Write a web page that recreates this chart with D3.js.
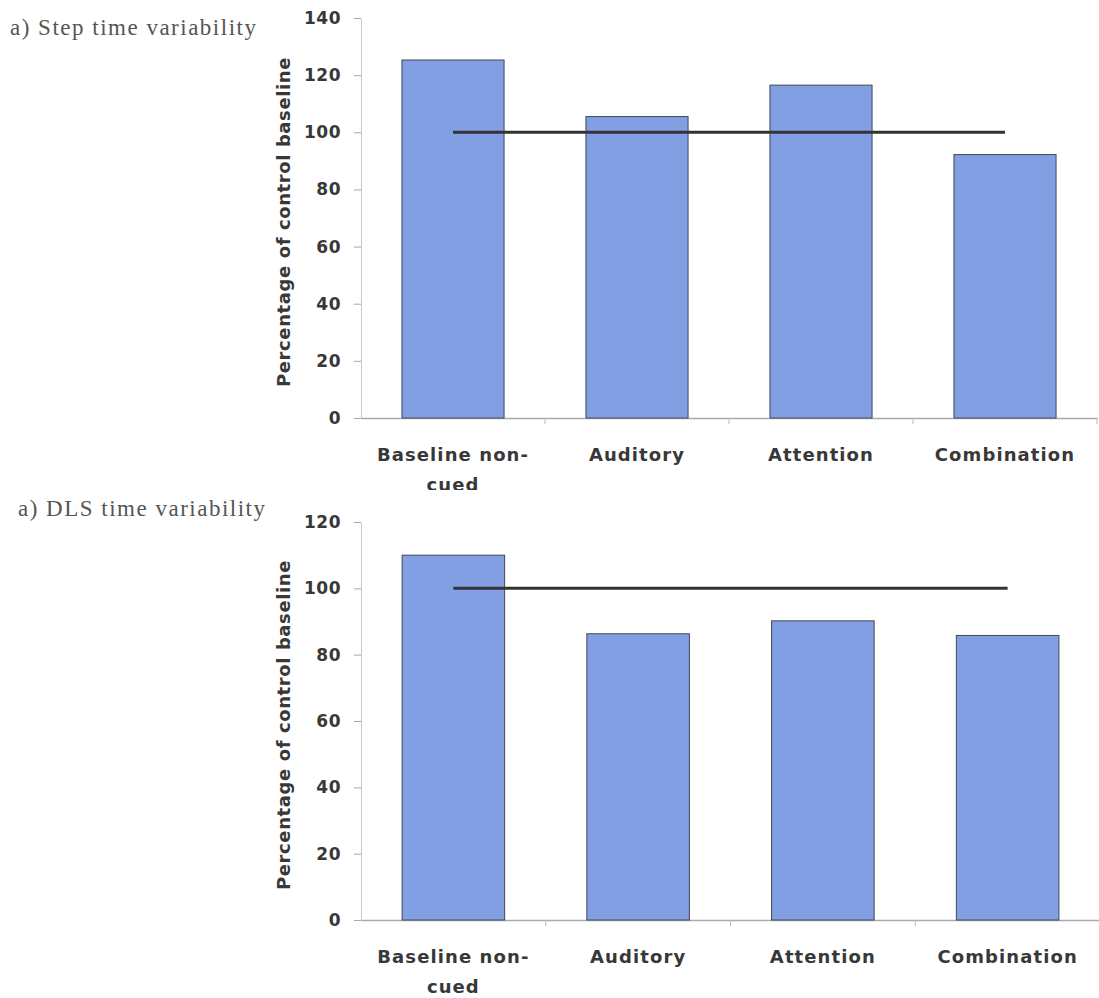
<!DOCTYPE html>
<html>
<head>
<meta charset="utf-8">
<script src="https://cdn.jsdelivr.net/npm/d3@7"></script>
<style>
  html, body { margin: 0; padding: 0; background: #ffffff; }
  svg { display: block; }
</style>
</head>
<body>
<script>
// ---- data ----
const categories = ["Baseline non-cued", "Auditory", "Attention", "Combination"];
const stepValues = [125.3, 105.5, 116.5, 92.2];
const dlsValues = [110.0, 86.3, 90.2, 85.8];
const controlValues = [100, 100, 100, 100];
const stepTicks = [0, 20, 40, 60, 80, 100, 120, 140];
const dlsTicks = [0, 20, 40, 60, 80, 100, 120];
const stepTitle = "a) Step time variability";
const dlsTitle = "a) DLS time variability";
const yLabel = "Percentage of control baseline";

const W = 1099, H = 998;
const svg = d3.select("body").append("svg").attr("width", W).attr("height", H);

const defs = svg.append("defs");
defs.append("clipPath").attr("id", "clipTop")
  .append("rect").attr("x", 0).attr("y", 0).attr("width", W).attr("height", 490);

function panel(opts) {
  const g = svg.append("g");
  if (opts.clip) g.attr("clip-path", "url(#" + opts.clip + ")");
  const x = d3.scaleBand().domain(categories).range([opts.x0, opts.x1])
    .paddingInner(0.445).paddingOuter(0.2225);
  const xb = d3.scaleBand().domain(categories).range([opts.x0, opts.x1]).padding(0);
  const y = d3.scaleLinear().domain([0, d3.max(opts.ticks)]).range([opts.y0, opts.y1]);

  // title
  g.append("text").attr("x", opts.tx).attr("y", opts.ty)
    .attr("font-family", "'Liberation Serif', 'Times New Roman', serif")
    .attr("font-size", 23).attr("letter-spacing", 1.5).attr("fill", "#555")
    .text(opts.title);

  // y axis
  const yAxis = d3.axisLeft(y).tickValues(opts.ticks).tickFormat(d3.format("d"))
    .tickSizeInner(7).tickSizeOuter(0).tickPadding(13);
  const ya = g.append("g").attr("transform", `translate(${opts.x0},0)`).call(yAxis);
  ya.select(".domain").attr("stroke", "#c8c8c8").attr("stroke-width", 1);
  ya.selectAll(".tick line").attr("stroke", "#aaa");
  ya.selectAll(".tick text").attr("font-family", "'DejaVu Sans', sans-serif")
    .attr("font-weight", "bold").attr("font-size", 17).attr("letter-spacing", 0.5).attr("fill", "#383838");

  // x axis
  const xAxis = d3.axisBottom(xb).tickSize(0).tickFormat("");
  const xa = g.append("g").attr("transform", `translate(0,${opts.y0})`).call(xAxis);
  xa.select(".domain").attr("stroke", "#aaa").attr("stroke-width", 1.5);
  // category boundary ticks
  xa.selectAll("line.bound").data(categories.slice(1).concat(["__end"]))
    .enter().append("line").attr("class", "bound")
    .attr("x1", (d, i) => opts.x0 + xb.step() * (i + 1))
    .attr("x2", (d, i) => opts.x0 + xb.step() * (i + 1))
    .attr("y1", 0).attr("y2", 6).attr("stroke", "#bbb");

  // category labels
  const lab = g.append("g");
  categories.forEach((c) => {
    const lines = c.split(/(?<=-)/);
    const t = lab.append("text")
      .attr("x", x(c) + x.bandwidth() / 2).attr("y", opts.y0 + 43)
      .attr("text-anchor", "middle")
      .attr("font-family", "'DejaVu Sans', sans-serif").attr("font-weight", "bold")
      .attr("font-size", 18).attr("letter-spacing", 1.1).attr("fill", "#383838");
    lines.forEach((ln, k) => {
      t.append("tspan").attr("x", x(c) + x.bandwidth() / 2)
        .attr("dy", k === 0 ? 0 : 30).text(ln.trim());
    });
  });

  // y label
  const cy = (opts.y0 + opts.y1) / 2 + 4;
  g.append("text").attr("transform", `translate(${opts.lx},${cy}) rotate(-90)`)
    .attr("text-anchor", "middle")
    .attr("font-family", "'DejaVu Sans', sans-serif").attr("font-weight", "bold")
    .attr("font-size", 18).attr("letter-spacing", 0.6).attr("fill", "#383838")
    .text(yLabel);

  // bars
  g.append("g").selectAll("rect").data(opts.values).enter().append("rect")
    .attr("x", (d, i) => x(categories[i]))
    .attr("y", d => y(d))
    .attr("width", x.bandwidth())
    .attr("height", d => y(0) - y(d))
    .attr("fill", "#819fe2").attr("stroke", "#404858").attr("stroke-width", 1);

  // control line
  const line = d3.line()
    .x((d, i) => x(categories[i]) + x.bandwidth() / 2)
    .y(d => y(d));
  g.append("path").datum(controlValues).attr("d", line)
    .attr("fill", "none").attr("stroke", "#333").attr("stroke-width", 3);
}

panel({ title: stepTitle, tx: 10, ty: 35, values: stepValues, ticks: stepTicks,
  x0: 361, x1: 1097, y0: 418, y1: 18, lx: 290, clip: "clipTop" });
panel({ title: dlsTitle, tx: 18, ty: 516, values: dlsValues, ticks: dlsTicks,
  x0: 361, x1: 1100, y0: 920, y1: 522, lx: 290 });
</script>
</body>
</html>
